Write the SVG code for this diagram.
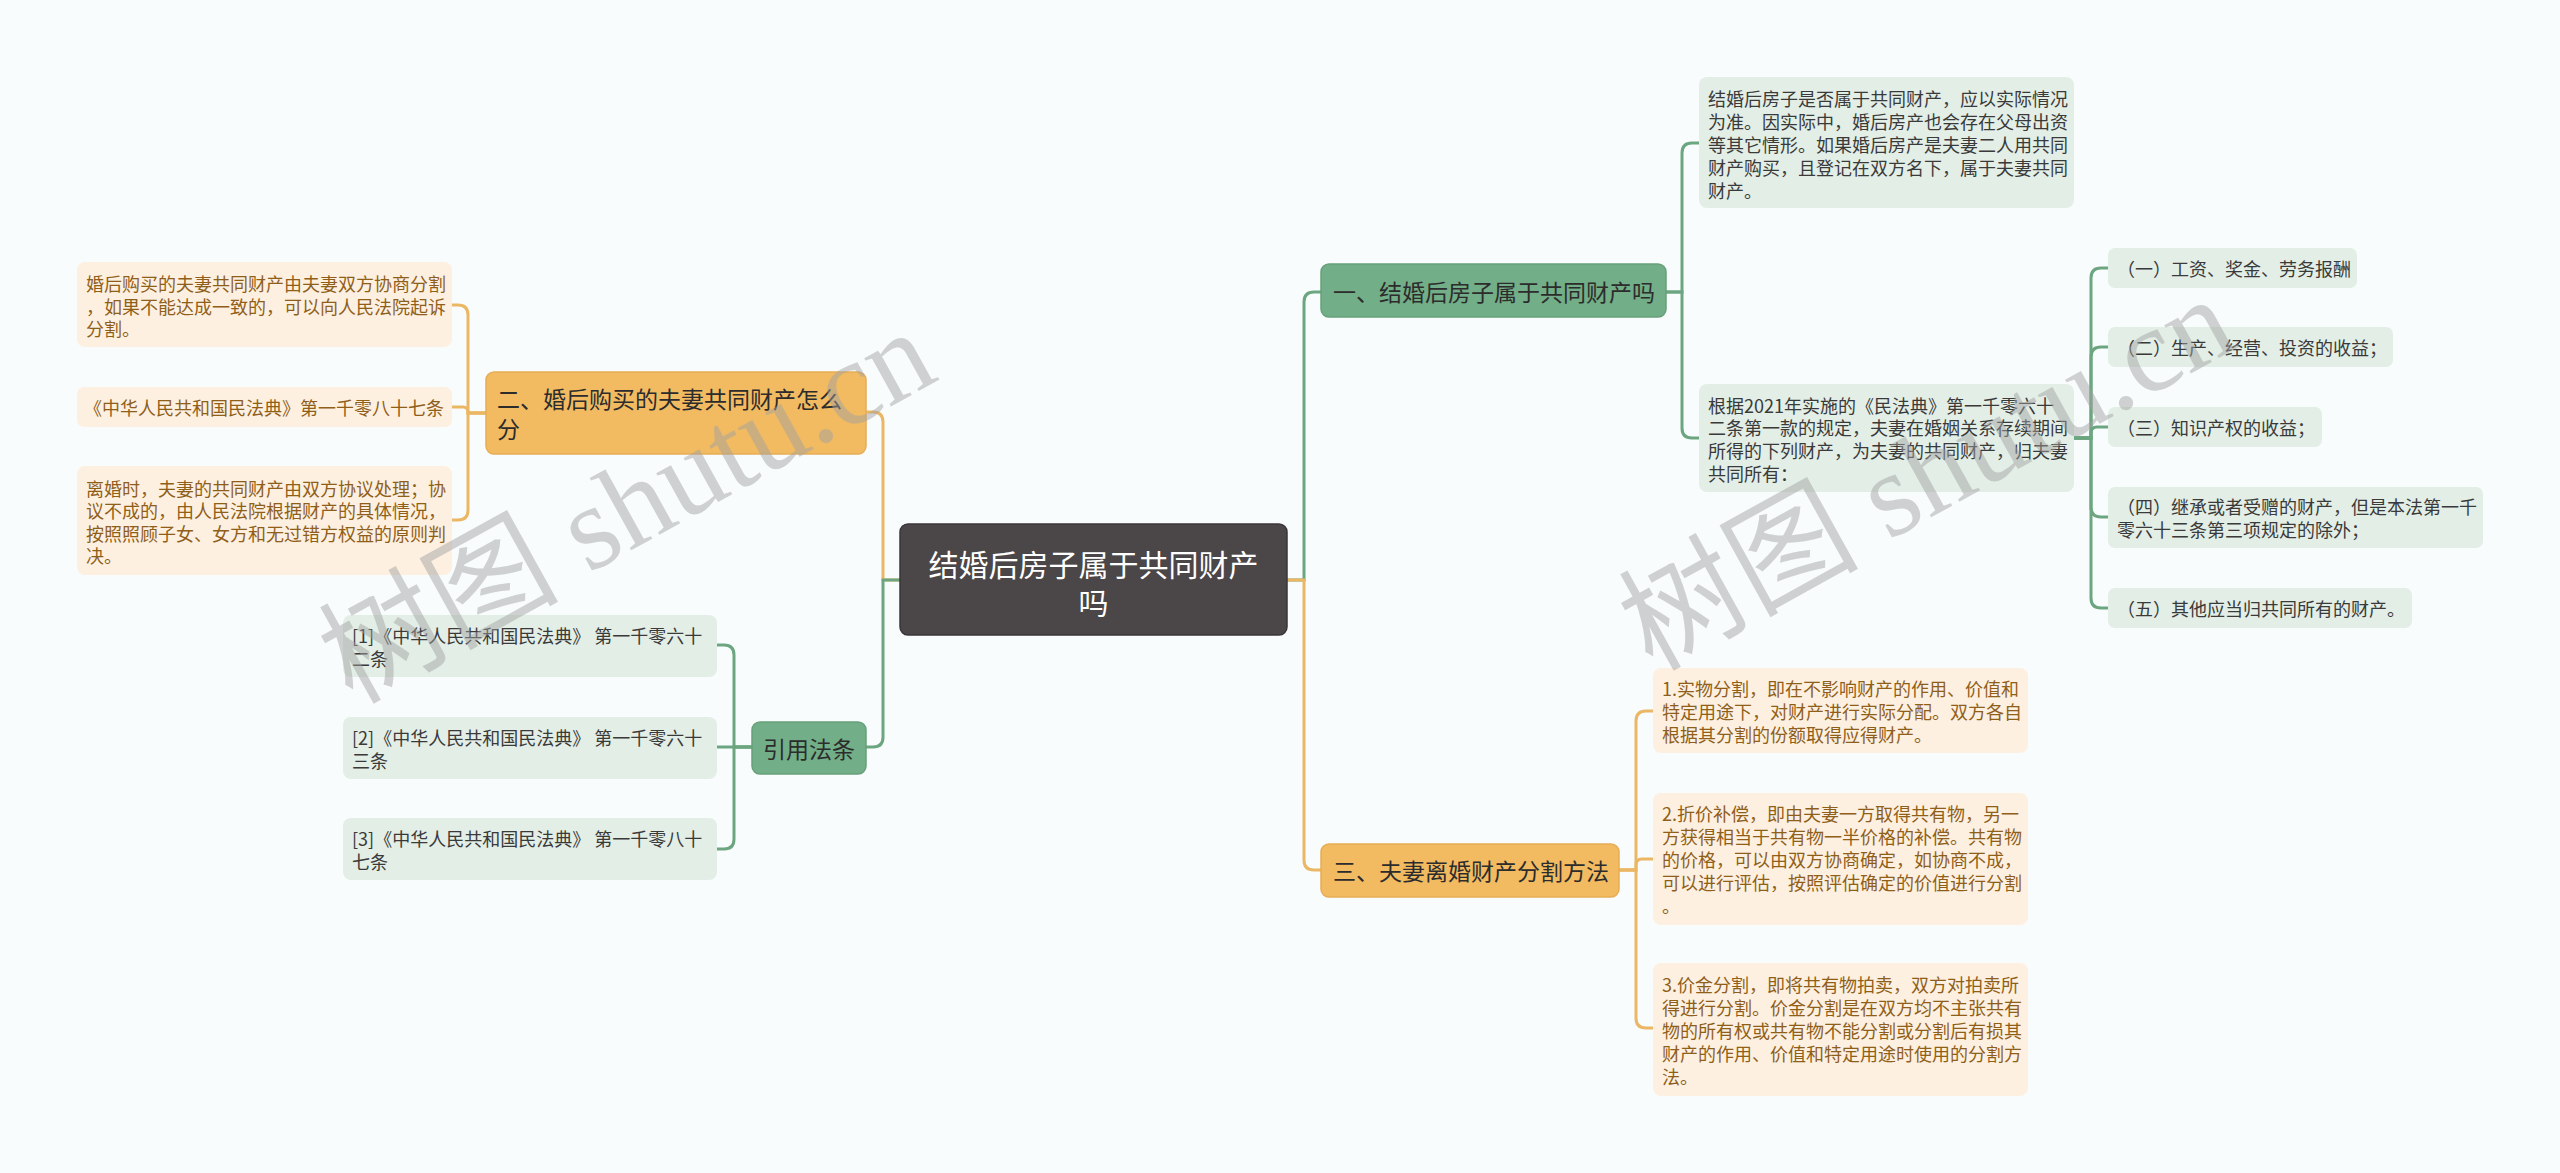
<svg xmlns="http://www.w3.org/2000/svg" width="2560" height="1173" viewBox="0 0 2560 1173">
<style>
text{font-family:"Noto Sans CJK SC","Liberation Sans",sans-serif;dominant-baseline:central}
.c-g{fill:none;stroke:#6ca680;stroke-width:3;stroke-linecap:round}
.c-o{fill:none;stroke:#ecb765;stroke-width:3;stroke-linecap:round}
.root rect{fill:#4b4647;stroke:#3b3738;stroke-width:1.5}
.root text{fill:#ffffff;font-size:30px}
.pg rect{fill:#72ae87;stroke:#67a07b;stroke-width:1.5}
.po rect{fill:#f2bb62;stroke:#e6ad55;stroke-width:1.5}
.pg text,.po text{fill:#2c2c2c;font-size:23px}
.lg rect{fill:#e3eee6}
.lo rect{fill:#fdf0e1}
.lg text{fill:#3a3a3a;font-size:18px}
.lo text{fill:#8f5f1a;font-size:18px}
.wm{font-family:"Liberation Serif","Noto Sans CJK SC",serif;font-size:120px;fill:#a0a0a0;fill-opacity:0.48;dominant-baseline:auto}
</style>
<rect x="0" y="0" width="2560" height="1173" fill="#f8fcfd"/>

<g id="connectors">
  <path class="c-g" d="M1287,580 H1304 V302 Q1304,292 1314,292 H1321"/>
  <path class="c-o" d="M1287,580 H1304 V860 Q1304,870 1314,870 H1321"/>
  <path class="c-o" d="M900,580 H883 V422 Q883,412 873,412 H866"/>
  <path class="c-g" d="M900,580 H883 V737 Q883,747 873,747 H866"/>
  <path class="c-g" d="M1666,292 H1682 V153 Q1682,143 1692,143 H1699"/>
  <path class="c-g" d="M1666,292 H1682 V428 Q1682,438 1692,438 H1699"/>
  <path class="c-g" d="M2074,438 H2091 V278 Q2091,268 2101,268 H2108"/>
  <path class="c-g" d="M2074,438 H2091 V357 Q2091,347 2101,347 H2108"/>
  <path class="c-g" d="M2074,438 H2091 V433 Q2091,427 2097,427 H2108"/>
  <path class="c-g" d="M2074,438 H2091 V507 Q2091,517 2101,517 H2108"/>
  <path class="c-g" d="M2074,438 H2091 V598 Q2091,608 2101,608 H2108"/>
  <path class="c-o" d="M1619,870 H1636 V721 Q1636,711 1646,711 H1653"/>
  <path class="c-o" d="M1619,870 H1636 V865 Q1636,859 1642,859 H1653"/>
  <path class="c-o" d="M1619,870 H1636 V1018 Q1636,1028 1646,1028 H1653"/>
  <path class="c-o" d="M486,413 H468 V315 Q468,305 458,305 H452"/>
  <path class="c-o" d="M486,413 H468 V412 Q468,407 463,407 H452"/>
  <path class="c-o" d="M486,413 H468 V510 Q468,520 458,520 H452"/>
  <path class="c-g" d="M752,747 H734 V655 Q734,645 724,645 H717"/>
  <path class="c-g" d="M752,747 H717"/>
  <path class="c-g" d="M752,747 H734 V839 Q734,849 724,849 H717"/>
</g>

<g id="root" class="root">
  <rect x="900" y="524" width="387" height="111" rx="8"/>
  <text x="1093.5" y="563" text-anchor="middle">结婚后房子属于共同财产</text>
  <text x="1093.5" y="601" text-anchor="middle">吗</text>
</g>

<g id="node-1" class="pg">
  <rect x="1321" y="264" width="345" height="53" rx="8"/>
  <text x="1333" y="291">一、结婚后房子属于共同财产吗</text>
</g>
<g id="node-2" class="po">
  <rect x="486" y="372" width="380" height="82" rx="8"/>
  <text x="497" y="398">二、婚后购买的夫妻共同财产怎么</text>
  <text x="497" y="428">分</text>
</g>
<g id="node-3" class="po">
  <rect x="1321" y="844" width="298" height="53" rx="8"/>
  <text x="1333" y="870">三、夫妻离婚财产分割方法</text>
</g>
<g id="node-refs" class="pg">
  <rect x="752" y="722" width="114" height="52" rx="8"/>
  <text x="809" y="748" text-anchor="middle">引用法条</text>
</g>

<g id="leaf-1a" class="lg">
  <rect x="1699" y="77" width="375" height="131" rx="8"/>
  <text x="1708" y="97.5">结婚后房子是否属于共同财产，应以实际情况</text>
  <text x="1708" y="120.5">为准。因实际中，婚后房产也会存在父母出资</text>
  <text x="1708" y="143.5">等其它情形。如果婚后房产是夫妻二人用共同</text>
  <text x="1708" y="166.5">财产购买，且登记在双方名下，属于夫妻共同</text>
  <text x="1708" y="189.5">财产。</text>
</g>
<g id="leaf-1b" class="lg">
  <rect x="1699" y="384" width="375" height="108" rx="8"/>
  <text x="1708" y="404.5">根据2021年实施的《民法典》第一千零六十</text>
  <text x="1708" y="427.3">二条第一款的规定，夫妻在婚姻关系存续期间</text>
  <text x="1708" y="450.1">所得的下列财产，为夫妻的共同财产，归夫妻</text>
  <text x="1708" y="472.9">共同所有：</text>
</g>
<g id="leaf-1b-1" class="lg">
  <rect x="2108" y="248" width="249" height="40" rx="7"/>
  <text x="2117" y="268">（一）工资、奖金、劳务报酬</text>
</g>
<g id="leaf-1b-2" class="lg">
  <rect x="2108" y="327" width="285" height="40" rx="7"/>
  <text x="2117" y="347">（二）生产、经营、投资的收益；</text>
</g>
<g id="leaf-1b-3" class="lg">
  <rect x="2108" y="407" width="214" height="40" rx="7"/>
  <text x="2117" y="427">（三）知识产权的收益；</text>
</g>
<g id="leaf-1b-4" class="lg">
  <rect x="2108" y="487" width="375" height="61" rx="7"/>
  <text x="2117" y="506">（四）继承或者受赠的财产，但是本法第一千</text>
  <text x="2117" y="529">零六十三条第三项规定的除外；</text>
</g>
<g id="leaf-1b-5" class="lg">
  <rect x="2108" y="588" width="304" height="40" rx="7"/>
  <text x="2117" y="608">（五）其他应当归共同所有的财产。</text>
</g>

<g id="leaf-3-1" class="lo">
  <rect x="1653" y="668" width="375" height="85" rx="8"/>
  <text x="1662" y="688">1.实物分割，即在不影响财产的作用、价值和</text>
  <text x="1662" y="711">特定用途下，对财产进行实际分配。双方各自</text>
  <text x="1662" y="734">根据其分割的份额取得应得财产。</text>
</g>
<g id="leaf-3-2" class="lo">
  <rect x="1653" y="793" width="375" height="132" rx="8"/>
  <text x="1662" y="813">2.折价补偿，即由夫妻一方取得共有物，另一</text>
  <text x="1662" y="836">方获得相当于共有物一半价格的补偿。共有物</text>
  <text x="1662" y="859">的价格，可以由双方协商确定，如协商不成，</text>
  <text x="1662" y="882">可以进行评估，按照评估确定的价值进行分割</text>
  <text x="1662" y="905">。</text>
</g>
<g id="leaf-3-3" class="lo">
  <rect x="1653" y="963" width="375" height="133" rx="8"/>
  <text x="1662" y="984">3.价金分割，即将共有物拍卖，双方对拍卖所</text>
  <text x="1662" y="1007">得进行分割。价金分割是在双方均不主张共有</text>
  <text x="1662" y="1030">物的所有权或共有物不能分割或分割后有损其</text>
  <text x="1662" y="1053">财产的作用、价值和特定用途时使用的分割方</text>
  <text x="1662" y="1076">法。</text>
</g>

<g id="leaf-2-1" class="lo">
  <rect x="77" y="262" width="375" height="85" rx="8"/>
  <text x="86" y="283">婚后购买的夫妻共同财产由夫妻双方协商分割</text>
  <text x="86" y="305.5">，如果不能达成一致的，可以向人民法院起诉</text>
  <text x="86" y="328">分割。</text>
</g>
<g id="leaf-2-2" class="lo">
  <rect x="77" y="387" width="375" height="40" rx="7"/>
  <text x="84" y="407">《中华人民共和国民法典》第一千零八十七条</text>
</g>
<g id="leaf-2-3" class="lo">
  <rect x="77" y="466" width="375" height="109" rx="8"/>
  <text x="86" y="487.5">离婚时，夫妻的共同财产由双方协议处理；协</text>
  <text x="86" y="510">议不成的，由人民法院根据财产的具体情况，</text>
  <text x="86" y="532.5">按照照顾子女、女方和无过错方权益的原则判</text>
  <text x="86" y="555">决。</text>
</g>

<g id="ref-1" class="lg">
  <rect x="343" y="615" width="374" height="62" rx="8"/>
  <text x="352" y="635">[1]《中华人民共和国民法典》 第一千零六十</text>
  <text x="352" y="658">二条</text>
</g>
<g id="ref-2" class="lg">
  <rect x="343" y="717" width="374" height="62" rx="8"/>
  <text x="352" y="737">[2]《中华人民共和国民法典》 第一千零六十</text>
  <text x="352" y="760">三条</text>
</g>
<g id="ref-3" class="lg">
  <rect x="343" y="818" width="374" height="62" rx="8"/>
  <text x="352" y="838">[3]《中华人民共和国民法典》 第一千零八十</text>
  <text x="352" y="861">七条</text>
</g>

<g id="watermark">
  <text class="wm" transform="translate(352,705) rotate(-29)">树图 shutu.cn</text>
  <text class="wm" transform="translate(1652,672) rotate(-29)">树图 shutu.cn</text>
</g>
</svg>
